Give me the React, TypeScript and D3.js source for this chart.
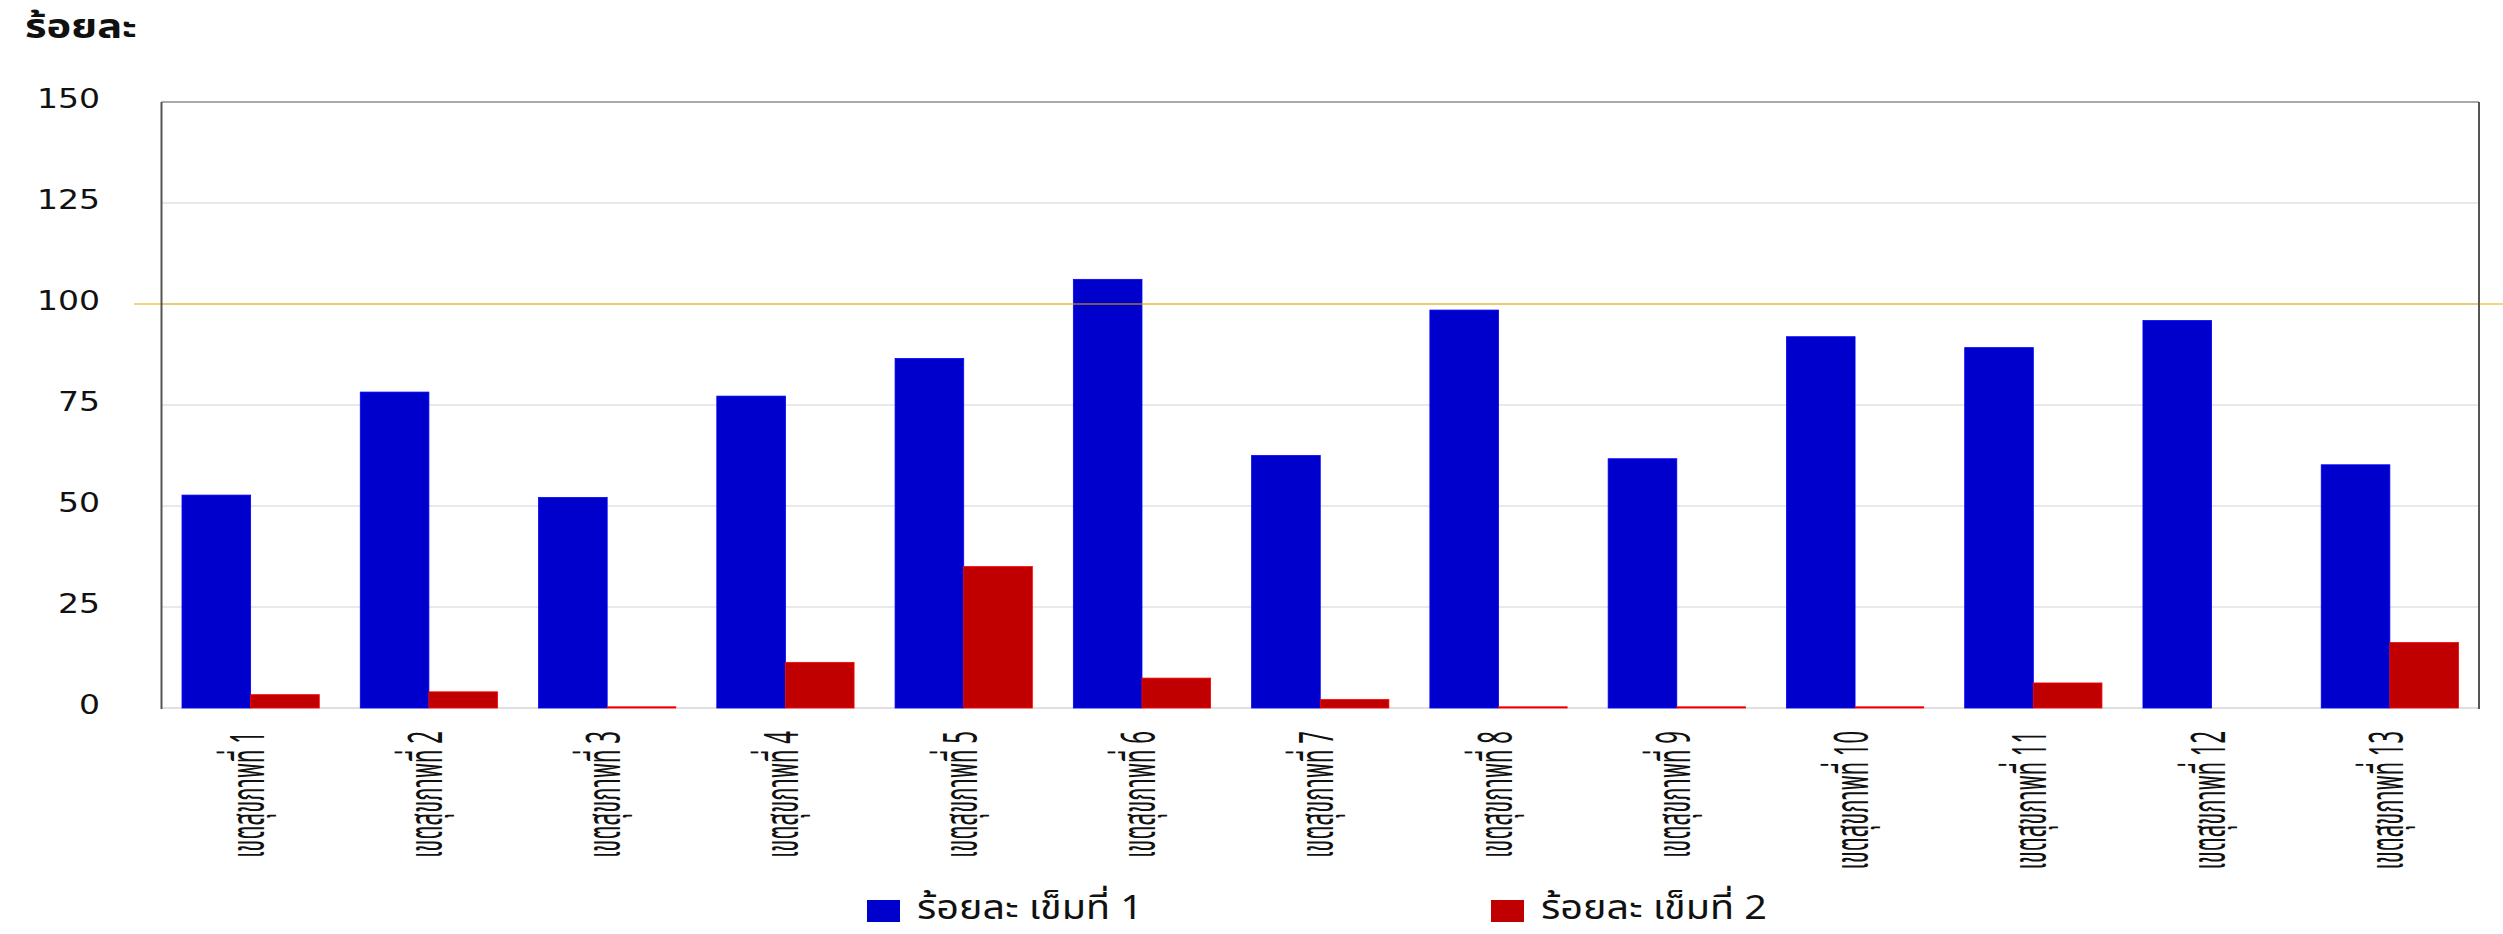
import * as d3 from "d3";

const categories = [
  "เขตสุขภาพที่ 1", "เขตสุขภาพที่ 2", "เขตสุขภาพที่ 3", "เขตสุขภาพที่ 4",
  "เขตสุขภาพที่ 5", "เขตสุขภาพที่ 6", "เขตสุขภาพที่ 7", "เขตสุขภาพที่ 8",
  "เขตสุขภาพที่ 9", "เขตสุขภาพที่ 10", "เขตสุขภาพที่ 11", "เขตสุขภาพที่ 12",
  "เขตสุขภาพที่ 13",
];
const dose1 = [52.7, 78.2, 52.1, 77.2, 86.5, 106.1, 62.5, 98.5, 61.7, 91.9, 89.2, 95.9, 60.2];
const dose2: (number | null)[] = [3.3, 4.0, 0, 11.3, 35.0, 7.4, 2.1, 0, 0, 0, 6.2, null, 16.2];
const seriesNames = ["ร้อยละ เข็มที่ 1", "ร้อยละ เข็มที่ 2"];
const seriesColors = ["#0000cc", "#c00000"];
const yTicks = [0, 25, 50, 75, 100, 125, 150];
const targetValue = 100;
const yTitle = "ร้อยละ";

const W = 2503;
const H = 934;
const left = 161.5;
const right = 2479;
const top = 102;
const bottom = 708;

const thaiFont = "'Noto Sans Thai', 'Noto Sans', 'DejaVu Sans', sans-serif";

// count glyph advances (Thai combining marks take no width)
const advances = (s: string) =>
  Array.from(s).filter((c) => {
    const cp = c.codePointAt(0) || 0;
    return !(cp === 0x0e31 || (cp >= 0x0e34 && cp <= 0x0e3a) || (cp >= 0x0e47 && cp <= 0x0e4e));
  }).length;

export default function App() {
  const x0 = d3.scaleBand<string>()
    .domain(categories)
    .range([left, right])
    .paddingInner(0.23)
    .paddingOuter(0.115);
  const x1 = d3.scaleBand<number>().domain([0, 1]).range([0, x0.bandwidth()]);
  const y = d3.scaleLinear().domain([0, 150]).range([bottom, top]);

  const series = [dose1, dose2];
  const labelPerAdvance = 127 / advances(categories[0]);

  return (
    <svg width={W} height={H} style={{ position: "absolute", left: 0, top: 0, background: "#fff" }}>
      {/* y title */}
      <text x={25} y={38} fontFamily={thaiFont} fontWeight="bold" fontSize={34} fill="#111"
        textLength={112} lengthAdjust="spacingAndGlyphs">{yTitle}</text>

      {/* grid */}
      {yTicks.filter((t) => t > 0 && t < 150).map((t) => (
        <line key={t} x1={left} x2={right} y1={y(t)} y2={y(t)} stroke="#e2e2e2" strokeWidth={1.5} />
      ))}
      <line x1={left} x2={right} y1={y(0)} y2={y(0)} stroke="#d6d6d6" strokeWidth={1.5} />

      {/* y tick labels */}
      {yTicks.map((t) => {
        const s = String(t);
        return (
          <text key={t} x={100} y={y(t) + 5.5} textAnchor="end" fontFamily="'DejaVu Sans', Verdana, sans-serif"
            fontSize={27} fill="#111" textLength={21 * s.length} lengthAdjust="spacingAndGlyphs">{s}</text>
        );
      })}

      {/* bars */}
      {categories.map((c, i) => (
        <g key={c} transform={`translate(${x0(c)},0)`}>
          {series.map((s, k) => {
            const v = s[i];
            if (v == null) return null;
            const h = Math.max(y(0) - y(v), 1.2);
            return (
              <rect key={k} x={x1(k)} y={y(0) - h} width={x1.bandwidth()} height={h}
                fill={seriesColors[k]} stroke={d3.color(seriesColors[k])!.brighter(1.2).formatHex()}
                strokeWidth={0.8} />
            );
          })}
        </g>
      ))}

      {/* target line */}
      <line x1={134} x2={W} y1={y(targetValue)} y2={y(targetValue)} stroke="#e8b000" strokeWidth={1.2} />

      {/* frame */}
      <line x1={left} x2={right} y1={top} y2={top} stroke="#555" strokeWidth={1.2} />
      <line x1={left} x2={left} y1={top} y2={bottom + 1} stroke="#555" strokeWidth={2} />
      <line x1={right} x2={right} y1={top} y2={bottom + 1} stroke="#555" strokeWidth={2} />

      {/* x labels */}
      {categories.map((c) => {
        const cx = (x0(c) || 0) + x0.bandwidth() / 2;
        return (
          <text key={c} transform={`translate(${cx + 13},731) rotate(-90)`} textAnchor="end"
            fontFamily={thaiFont} fontSize={47} fill="#111"
            textLength={labelPerAdvance * advances(c)} lengthAdjust="spacingAndGlyphs">{c}</text>
        );
      })}

      {/* legend */}
      {seriesNames.map((n, k) => {
        const lx = k === 0 ? 867 : 1491;
        return (
          <g key={n}>
            <rect x={lx} y={900} width={33} height={22} fill={seriesColors[k]} />
            <text x={lx + 50} y={919} fontFamily={thaiFont} fontSize={33} fill="#111"
              textLength={226} lengthAdjust="spacingAndGlyphs">{n}</text>
          </g>
        );
      })}
    </svg>
  );
}
